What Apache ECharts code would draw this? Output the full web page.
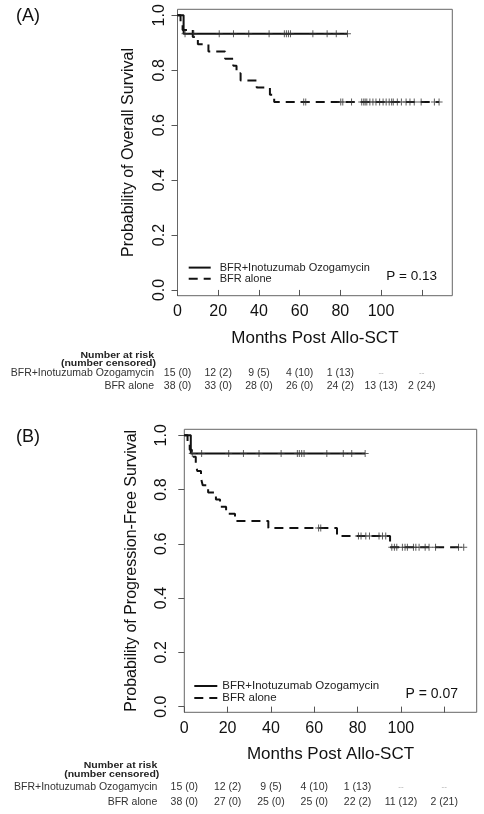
<!DOCTYPE html>
<html><head><meta charset="utf-8">
<script src="https://cdn.jsdelivr.net/npm/echarts@6/dist/echarts.min.js"></script>
<style>html,body{margin:0;padding:0;background:#fff}#c{width:484px;height:814px}</style>
</head><body><div id="c"></div>
<script>
// ---------- data ----------
const xTickValues = [0, 20, 40, 60, 80, 100, 120];
const xLabelValues = [0, 20, 40, 60, 80, 100];
const yTickValues = [0, 0.2, 0.4, 0.6, 0.8, 1.0];

const seriesNames = ['BFR+Inotuzumab Ozogamycin', 'BFR alone'];

// Panel A: overall survival
const inoTimesA = [0, 3, 83.5];
const inoSurvA  = [1.0, 0.933, 0.933];
const inoCensorA = [3.7, 8, 20.5, 27.5, 35, 45, 52.5, 53.5, 54.5, 55.5, 66.5, 73.5, 78, 83.5];
const bfrTimesA = [0, 1.5, 2.5, 7.5, 10, 15.2, 23.4, 27.4, 29, 31, 38.9, 45.4, 47.5, 128.5];
const bfrSurvA  = [1.0, 0.974, 0.947, 0.921, 0.895, 0.868, 0.842, 0.816, 0.789, 0.763, 0.737, 0.711, 0.684, 0.684];
const bfrCensorA = [62, 63, 80.2, 81.2, 85.5, 90.5, 91.5, 92.2, 93, 94.5, 96, 97.5, 99.3,
  101, 102.5, 104, 105.2, 106, 108, 110, 112.3, 114.2, 116.3, 119.7, 126.2, 128.5];

// Panel B: progression-free survival
const inoTimesB = [0, 3, 83.5];
const inoSurvB  = [1.0, 0.933, 0.933];
const inoCensorB = [3.7, 8, 20.5, 27.3, 34.5, 44.7, 52.2, 53.1, 54.2, 55.3, 65.8, 73.4, 77.3, 83.5];
const bfrTimesB = [0, 1.5, 2.5, 3.5, 5.3, 6, 7.7, 8.5, 11, 14.6, 16.5, 19.3, 23.4, 38.8, 70.5, 95, 129];
const bfrSurvB  = [1.0, 0.974, 0.947, 0.921, 0.895, 0.868, 0.842, 0.816, 0.789, 0.763, 0.737, 0.711, 0.684, 0.658, 0.629, 0.587, 0.587];
const bfrCensorB = [62, 63, 80.4, 81.6, 83.8, 85.5, 89.9, 91.5, 93, 95.8, 97, 98.1,
  100.7, 101.9, 103, 105.8, 106.9, 108.4, 111.2, 113, 116, 126.6, 129];

const pValueA = 'P = 0.13';
const pValueB = 'P = 0.07';

const riskTimes = [0, 20, 40, 60, 80, 100, 120];
const riskInoA = ['15 (0)', '12 (2)', '9 (5)', '4 (10)', '1 (13)', '--', '--'];
const riskBfrA = ['38 (0)', '33 (0)', '28 (0)', '26 (0)', '24 (2)', '13 (13)', '2 (24)'];
const riskInoB = ['15 (0)', '12 (2)', '9 (5)', '4 (10)', '1 (13)', '--', '--'];
const riskBfrB = ['38 (0)', '27 (0)', '25 (0)', '25 (0)', '22 (2)', '11 (12)', '2 (21)'];

// ---------- helpers ----------
const FONT = '"Liberation Sans", Arial, Helvetica, sans-serif';
const plus = 'path://M3,0H4V3H7V4H4V7H3V4H0V3H3Z';
function steps(t, s) { return t.map((v, i) => [v, s[i]]); }
function censorPts(c, t, s) {
  return c.map(v => { let k = 0; for (let i = 0; i < t.length; i++) if (t[i] <= v) k = i; return [v, s[k]]; });
}
function lineSeries(name, data, idx, dashed) {
  return {
    type: 'line', name, data, step: 'end', symbol: 'none', xAxisIndex: idx, yAxisIndex: idx,
    lineStyle: { color: '#111', width: 2, type: dashed ? [9, 6] : 'solid' },
    itemStyle: { color: '#111' }, z: 3, silent: true
  };
}
let cIdx = 0;
function censorSeries(data, idx) {
  cIdx++;
  return {
    type: 'scatter', name: 'censor' + cIdx, data, symbol: plus, symbolSize: 7,
    xAxisIndex: idx, yAxisIndex: idx, itemStyle: { color: '#333' }, z: 4, silent: true
  };
}
function xAxis(idx) {
  return {
    gridIndex: idx, type: 'value', min: 0, max: 135,
    name: 'Months Post Allo-SCT', nameLocation: 'middle', nameGap: 34,
    nameTextStyle: { fontSize: 17, color: '#111', fontFamily: FONT },
    axisLine: { show: false }, splitLine: { show: false },
    axisTick: { show: true, length: 6, customValues: xTickValues, lineStyle: { color: '#555' } },
    axisLabel: { customValues: xLabelValues, fontSize: 16, color: '#111', fontFamily: FONT, margin: 8 }
  };
}
function yAxis(idx, name, gap, margin) {
  return {
    gridIndex: idx, type: 'value', min: -0.021, max: 1.022,
    name, nameLocation: 'middle', nameGap: gap,
    nameTextStyle: { fontSize: 16, color: '#111', fontFamily: FONT },
    axisLine: { show: false }, splitLine: { show: false },
    axisTick: { show: true, length: 6, customValues: yTickValues, lineStyle: { color: '#555' } },
    axisLabel: { customValues: yTickValues, rotate: 90, fontSize: 16, color: '#111', fontFamily: FONT,
      margin, formatter: v => v.toFixed(1) }
  };
}

const chart = echarts.init(document.getElementById('c'), null, { renderer: 'canvas' });
const option = {
  animation: false,
  backgroundColor: '#fff',
  grid: [
    { left: 177.5, top: 9.3, right: 31.7, bottom: 518.3, show: true, borderColor: '#666', borderWidth: 1, containLabel: false },
    { left: 184.3, top: 429.3, right: 7.3, bottom: 101.7, show: true, borderColor: '#666', borderWidth: 1, containLabel: false }
  ],
  xAxis: [xAxis(0), xAxis(1)],
  yAxis: [yAxis(0, 'Probability of Overall Survival', 41, 10), yAxis(1, 'Probability of Progression-Free Survival', 45, 15)],
  legend: [
    { data: seriesNames, orient: 'vertical', left: 187.7, top: 262, itemWidth: 22, itemHeight: 14, itemGap: 0, padding: 0,
      selectedMode: false, itemStyle: { opacity: 0 },
      textStyle: { fontSize: 11, color: '#222', fontFamily: FONT, padding: [0, 0, 0, 4] } },
    { data: seriesNames, orient: 'vertical', left: 193.3, top: 680, itemWidth: 23, itemHeight: 14, itemGap: 0, padding: 0,
      selectedMode: false, itemStyle: { opacity: 0 },
      textStyle: { fontSize: 11.5, color: '#222', fontFamily: FONT } }
  ],
  series: [
    lineSeries(seriesNames[0], steps(inoTimesA, inoSurvA), 0, false),
    lineSeries(seriesNames[1], steps(bfrTimesA, bfrSurvA), 0, true),
    censorSeries(censorPts(inoCensorA, inoTimesA, inoSurvA), 0),
    censorSeries(censorPts(bfrCensorA, bfrTimesA, bfrSurvA), 0),
    lineSeries(seriesNames[0], steps(inoTimesB, inoSurvB), 1, false),
    lineSeries(seriesNames[1], steps(bfrTimesB, bfrSurvB), 1, true),
    censorSeries(censorPts(inoCensorB, inoTimesB, inoSurvB), 1),
    censorSeries(censorPts(bfrCensorB, bfrTimesB, bfrSurvB), 1)
  ]
};
chart.setOption(option);

// ---------- annotations & risk tables ----------
function txt(text, x, y, size, opts) {
  opts = opts || {};
  return { type: 'text', x, y, scaleY: opts.sy || 1, silent: true, z: 10,
    style: { text, fontSize: size, fontFamily: FONT, fill: opts.color || '#222', fontWeight: opts.bold ? 'bold' : 'normal',
      align: opts.align || 'center', verticalAlign: 'middle' } };
}
const g = [];
g.push(txt('(A)', 28, 16, 18, { color: '#111' }));
g.push(txt('(B)', 28, 437, 18, { color: '#111' }));
g.push(txt(pValueA, 411.7, 276.7, 13.5, { color: '#111' }));
g.push(txt(pValueB, 431.7, 694, 14, { color: '#111' }));

function riskTable(idx, labelRight, yH1, yH2, yR1, yR2, ino, bfr) {
  g.push(txt('Number at risk', labelRight, yH1, 10.5, { bold: true, align: 'right', color: '#222', sy: 0.78 }));
  g.push(txt('(number censored)', labelRight + 2, yH2, 10.5, { bold: true, align: 'right', color: '#222', sy: 0.78 }));
  g.push(txt(seriesNames[0], labelRight, yR1, 10.5, { align: 'right', color: '#333' }));
  g.push(txt(seriesNames[1], labelRight, yR2, 10.5, { align: 'right', color: '#333' }));
  riskTimes.forEach((t, i) => {
    const x = chart.convertToPixel({ xAxisIndex: idx }, t);
    const dash1 = ino[i] === '--', dash2 = bfr[i] === '--';
    g.push(txt(ino[i], x, yR1, dash1 ? 8 : 10.5, { color: dash1 ? '#aaa' : '#333' }));
    g.push(txt(bfr[i], x, yR2, dash2 ? 8 : 10.5, { color: dash2 ? '#aaa' : '#333' }));
  });
}
riskTable(0, 154, 355.5, 363.5, 373, 386, riskInoA, riskBfrA);
riskTable(1, 157.3, 766.2, 774.7, 787.2, 801.7, riskInoB, riskBfrB);
chart.setOption({ graphic: g });
</script></body></html>
